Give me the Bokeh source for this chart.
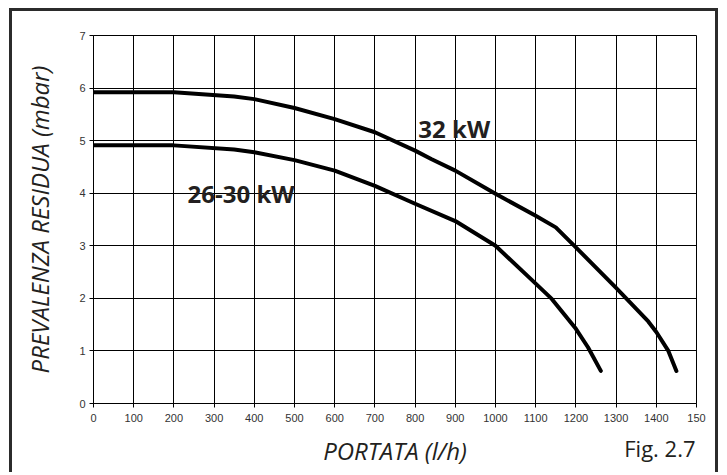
from bokeh.plotting import figure
from bokeh.models import Range1d, FixedTicker, Label, LinearAxis
from bokeh.embed import file_html
from bokeh.resources import INLINE

# Data
flow_32 = [0, 100, 150, 200, 350, 400, 500, 600, 700, 800, 840, 900, 1000,
           1100, 1150, 1200, 1300, 1380, 1400, 1430, 1450]
head_32 = [5.92, 5.92, 5.92, 5.92, 5.84, 5.79, 5.62, 5.41, 5.16, 4.81, 4.65,
           4.43, 3.99, 3.57, 3.35, 2.97, 2.2, 1.56, 1.36, 1.0, 0.62]

flow_26 = [0, 100, 150, 200, 350, 400, 500, 600, 700, 800, 900, 1000,
           1100, 1140, 1200, 1230, 1262]
head_26 = [4.91, 4.91, 4.91, 4.91, 4.83, 4.78, 4.63, 4.43, 4.14, 3.8,
           3.47, 3.0, 2.28, 1.99, 1.42, 1.07, 0.62]

x_ticks = list(range(0, 1501, 100))
y_ticks = [0, 1, 2, 3, 4, 5, 6, 7]
label_32 = "32 kW"
label_26 = "26-30 kW"
fig_caption = "Fig. 2.7"
fig_caption_at = 1409  # x position (l/h) under which the caption is centred

W, H = 709, 464
p = figure(width=W, height=H, output_backend="svg", toolbar_location=None,
           x_range=Range1d(0, 1500), y_range=Range1d(0, 7),
           min_border_left=81, min_border_right=25, min_border_top=24,
           min_border_bottom=72)
p.styles = {"border-left": "3px solid #2b2b2b", "border-top": "3px solid #2b2b2b",
            "border-right": "3px solid #2b2b2b", "margin-left": "9px",
            "margin-top": "8px"}
p.background_fill_color = "white"
p.border_fill_color = "white"
p.outline_line_color = "black"
p.outline_line_width = 1

p.xaxis.ticker = FixedTicker(ticks=x_ticks)
p.yaxis.ticker = FixedTicker(ticks=y_ticks)
p.xaxis.major_label_overrides = {1500: "150"}
for ax in (p.xaxis, p.yaxis):
    ax.axis_line_color = "black"
    ax.major_tick_line_color = "black"
    ax.major_tick_out = 4
    ax.major_tick_in = 0
    ax.minor_tick_line_color = None
    ax.major_label_text_font = "Liberation Sans"
    ax.major_label_text_font_size = "11px"
    ax.major_label_text_color = "#333333"
    ax.axis_label_text_font = "Open Sans"
    ax.axis_label_text_font_style = "italic"
    ax.axis_label_text_font_size = "24px"
    ax.axis_label_text_color = "#231f20"
p.xaxis.major_label_standoff = 6
p.yaxis.major_label_standoff = 4
p.xaxis.axis_label = "PORTATA (l/h)"
p.yaxis.axis_label = "PREVALENZA RESIDUA (mbar)"
p.xaxis.axis_label_standoff = 9
p.yaxis.axis_label_standoff = 20

p.xgrid.grid_line_color = "black"
p.ygrid.grid_line_color = "black"
p.xgrid.grid_line_width = 1
p.ygrid.grid_line_width = 1

p.line(flow_32, head_32, line_width=4, line_color="black", line_join="round", line_cap="round")
p.line(flow_26, head_26, line_width=4, line_color="black", line_join="round", line_cap="round")

p.add_layout(Label(x=808, y=5.23, text=label_32, text_font="Open Sans",
                   text_font_style="bold", text_font_size="24px",
                   text_color="#231f20", text_baseline="alphabetic"))
p.add_layout(Label(x=234, y=4.0, text=label_26, text_font="Open Sans",
                   text_font_style="bold", text_font_size="24px",
                   text_color="#231f20", text_baseline="alphabetic"))

# Caption "Fig. 2.7" drawn as the single label of a bare extra axis
cap_axis = LinearAxis(ticker=FixedTicker(ticks=[fig_caption_at]),
                      major_label_overrides={fig_caption_at: fig_caption},
                      axis_line_color=None, major_tick_line_color=None,
                      minor_tick_line_color=None, major_tick_out=0, major_tick_in=0,
                      minor_tick_out=0, minor_tick_in=0,
                      major_label_standoff=-37,
                      major_label_text_font="Open Sans",
                      major_label_text_font_size="22px",
                      major_label_text_color="#231f20")
p.add_layout(cap_axis, "below")

open("out.html", "w").write(file_html(p, INLINE))
